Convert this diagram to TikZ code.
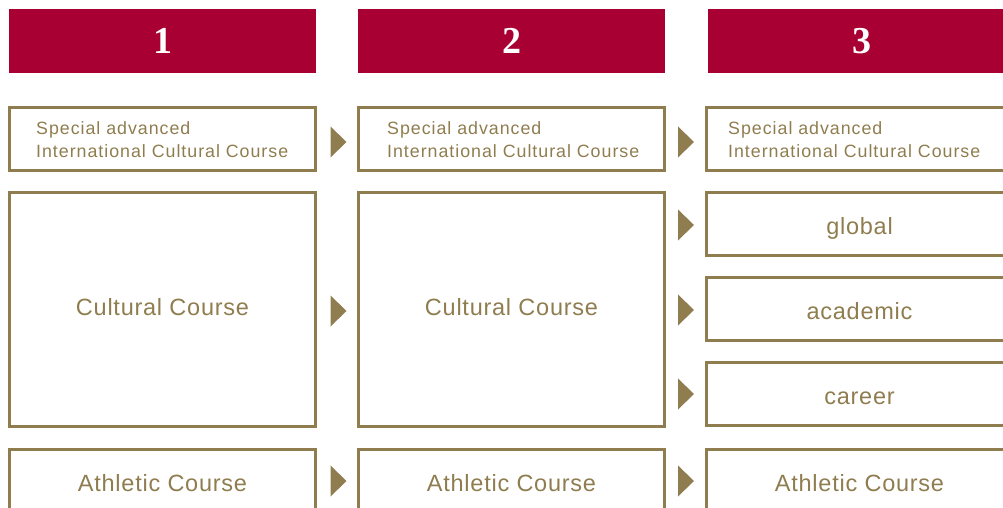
\documentclass[tikz,border=0pt]{standalone}
\usepackage{fontspec}
\setmainfont{Liberation Sans}
\newfontfamily\numfont{Liberation Serif}
\definecolor{gold}{HTML}{8F7D4F}
\definecolor{crimson}{HTML}{A80033}
\tikzset{
  hdr/.style={fill=crimson, draw=none, minimum width=307, minimum height=64, inner sep=0,
    text=white, text height=25, text depth=0, font=\numfont\bfseries\fontsize{38}{38}\selectfont},
  stagebox/.style={draw=gold, line width=3pt, minimum width=306, inner sep=0, text=gold,
    text height=18, text depth=0,
    font=\addfontfeature{LetterSpace=3.2}\fontsize{23.5}{23.5}\selectfont},
  lowtext/.style={text height=20, text depth=0},
  hightext/.style={text height=14, text depth=3},
  satext/.style={anchor=base west, inner sep=0, align=left, text=gold,
    font=\addfontfeature{LetterSpace=5.5}\fontsize{17.8}{23}\selectfont},
  marker/.style={fill=gold, draw=none}
}
\newcommand\marktri[1]{\fill[marker] (#1) ++(-8,-15.5) -- ++(16,15.5) -- ++(-16,15.5) -- cycle;}
\begin{document}
\begin{tikzpicture}[x=1pt,y=-1pt]
\useasboundingbox (0,0) rectangle (1003,508);
\clip (0,0) rectangle (1003,508);
% headers
\node[hdr] (h1) at (162.5,41) {1};
\node[hdr] (h2) at (511.5,41) {2};
\node[hdr] (h3) at (861.5,41) {3};
% row 1
\node[stagebox, minimum height=63] (sa1) at (162.5,139) {};
\node[stagebox, minimum height=63] (sa2) at (511.5,139) {};
\node[stagebox, minimum height=63] (sa3) at (859.5,139) {};
\node[satext] (sat1) at (36,157.5) {Special advanced\\International Cultural Course};
\node[satext] (sat2) at (387,157.5) {Special advanced\\International Cultural Course};
\node[satext] (sat3) at (728,157.5) {Special advanced\\International Cultural Course};
% cultural
\node[stagebox, hightext, minimum height=234] (c1) at (162.5,309.5) {Cultural Course};
\node[stagebox, hightext, minimum height=234] (c2) at (511.5,309.5) {Cultural Course};
\node[stagebox, lowtext, minimum height=63] (g3) at (859.5,224) {global};
\node[stagebox, lowtext, minimum height=63] (a3) at (859.5,309) {academic};
\node[stagebox, lowtext, minimum height=63] (k3) at (859.5,394) {career};
% athletic
\node[stagebox, minimum height=65] (at1) at (162.5,482) {Athletic Course};
\node[stagebox, minimum height=65] (at2) at (511.5,482) {Athletic Course};
\node[stagebox, minimum height=65] (at3) at (859.5,482) {Athletic Course};
% markers
\marktri{338.5,142}
\marktri{686,142}
\marktri{338.5,311}
\marktri{686,225}
\marktri{686,310}
\marktri{686,394}
\marktri{338.5,481}
\marktri{686,481}
\end{tikzpicture}
\end{document}
